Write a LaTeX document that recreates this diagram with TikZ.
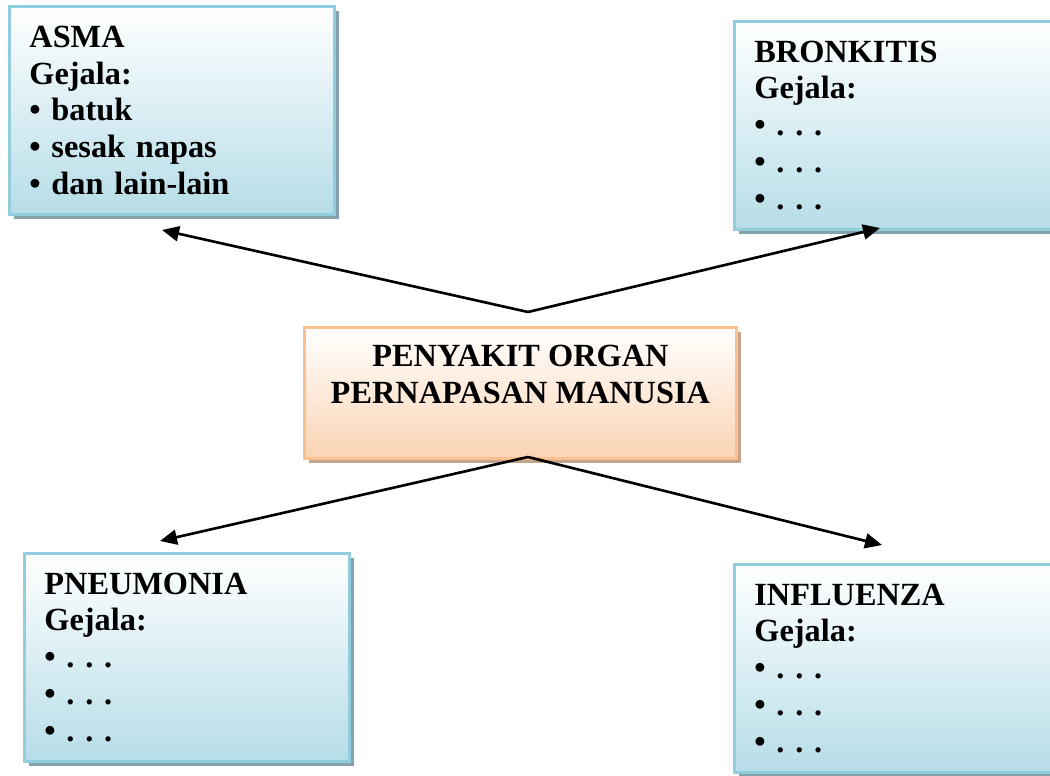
\documentclass[tikz,border=0pt]{standalone}
\usepackage{fontspec}
\setmainfont{Liberation Serif}
\usetikzlibrary{arrows.meta,shadows}

\definecolor{biruTepi}{RGB}{146,205,221}
\definecolor{biruBawah}{RGB}{182,221,232}
\definecolor{biruBayang}{RGB}{120,152,163}
\definecolor{oranyeTepi}{RGB}{250,192,143}
\definecolor{oranyeBawah}{RGB}{251,212,180}
\definecolor{oranyeBayang}{RGB}{190,155,128}

\tikzset{
    huruf/.style={font=\fontsize{9.2pt}{10.5pt}\selectfont\bfseries\frenchspacing},
    penyakit/.style={huruf, draw=biruTepi, line width=0.8pt,
        top color=white, bottom color=biruBawah,
        drop shadow={shadow xshift=0.05cm, shadow yshift=-0.05cm,
            fill=biruBayang, opacity=0.9},
        anchor=north west, align=left, text width=2.85cm,
        inner xsep=0.2cm, inner ysep=0pt, minimum height=2.08cm},
    pusatbox/.style={huruf, draw=oranyeTepi, line width=0.8pt,
        top color=white, bottom color=oranyeBawah,
        drop shadow={shadow xshift=0.05cm, shadow yshift=-0.05cm,
            fill=oranyeBayang, opacity=0.9},
        anchor=north west, align=center,
        minimum width=4.32cm, minimum height=1.31cm, inner sep=0pt},
    panah/.style={-{Triangle[length=0.17cm,width=0.15cm]}, line width=0.75pt}
}

\begin{document}
\begin{tikzpicture}
    \clip (0,0) rectangle (10.5,7.76);

    \node[penyakit] (asma) at (0.08,7.71) {ASMA\\Gejala:\\• batuk\\• sesak napas\\• dan lain-lain};
    \node[penyakit] (bronkitis) at (7.33,7.56) {BRONKITIS\\Gejala:\\• . . .\\• . . .\\• . . .};
    \node[pusatbox] (pusat) at (3.03,4.50) {PENYAKIT ORGAN\\PERNAPASAN MANUSIA\\\mbox{}};
    \node[penyakit] (pneumonia) at (0.23,2.24) {PNEUMONIA\\Gejala:\\• . . .\\• . . .\\• . . .};
    \node[penyakit] (influenza) at (7.33,2.13) {INFLUENZA\\Gejala:\\• . . .\\• . . .\\• . . .};

    \coordinate (puncak) at (5.28,4.64);
    \coordinate (dasar) at (5.28,3.19);
    \coordinate (keAsma) at (1.62,5.46);
    \coordinate (keBronkitis) at (8.80,5.48);
    \coordinate (kePneumonia) at (1.60,2.35);
    \coordinate (keInfluenza) at (8.82,2.31);

    \draw[panah] (puncak) -- (keAsma);
    \draw[panah] (puncak) -- (keBronkitis);
    \draw[panah] (dasar) -- (kePneumonia);
    \draw[panah] (dasar) -- (keInfluenza);
\end{tikzpicture}
\end{document}
